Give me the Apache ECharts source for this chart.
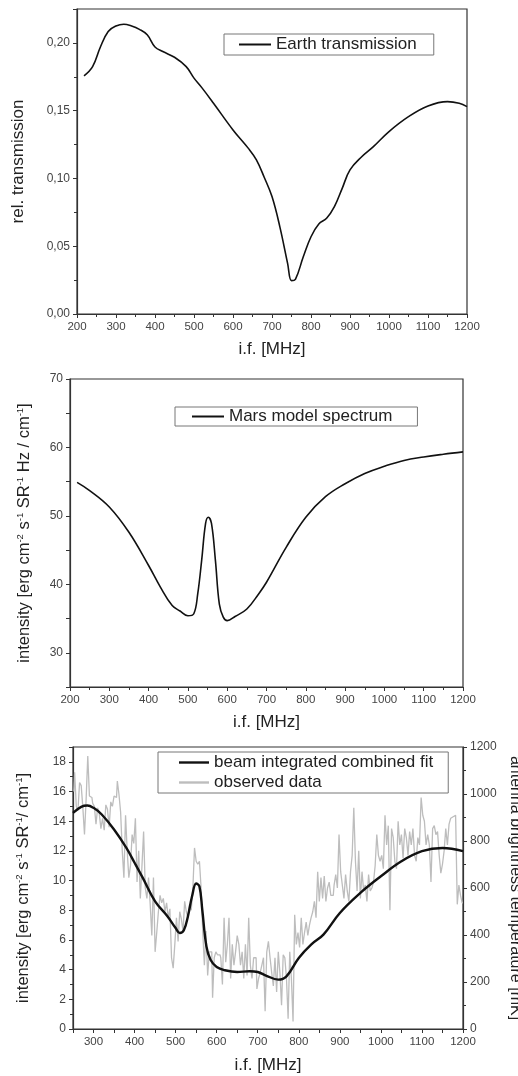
<!DOCTYPE html>
<html><head><meta charset="utf-8">
<script src="https://cdn.jsdelivr.net/npm/echarts@6/dist/echarts.min.js"></script>
<style>html,body{margin:0;padding:0;background:#fff}#c{width:518px;height:1076px}</style>
</head><body><div id="c"></div>
<script>
// ---- Panel 1: Earth transmission ----
const earthFreq = [218,240,260,280,300,320,340,360,380,400,420,450,480,500,520,550,600,640,660,680,700,720,740,750,760,780,800,820,840,860,880,900,930,960,1000,1050,1100,1150,1180,1200];
const earthVal = [0.1757,0.1825,0.197,0.2084,0.2125,0.2138,0.2125,0.210,0.206,0.197,0.1936,0.1894,0.1825,0.174,0.167,0.1555,0.1358,0.122,0.1137,0.1009,0.0866,0.0645,0.0374,0.0246,0.0256,0.042,0.057,0.0664,0.0706,0.0792,0.0927,0.1063,0.116,0.1235,0.1346,0.1456,0.1535,0.1567,0.1555,0.153];

// ---- Panel 2: Mars model spectrum ----
const marsFreq = [218,250,300,350,400,430,460,480,500,515,525,535,545,552,560,570,580,590,600,620,650,680,700,750,800,850,900,950,1000,1050,1100,1150,1200];
const marsVal = [54.9,53.7,51.3,47.6,42.75,39.6,36.9,36.1,35.4,35.7,38.6,43.5,48.9,49.8,48.9,43.5,37.1,35.2,34.7,35.3,36.4,38.6,40.3,45.4,49.8,52.8,54.7,56.2,57.25,58.1,58.6,59.0,59.35];

// ---- Panel 3: fit and observed data ----
const fitFreq = [250,270,285,300,320,350,380,400,420,450,480,500,510,520,530,540,550,558,565,575,585,600,620,650,680,700,720,750,770,800,830,860,900,950,1000,1050,1100,1150,1200];
const fitVal = [14.56,14.97,15.06,14.9,14.45,13.44,12.2,11.2,10.18,8.6,7.6,6.8,6.47,6.65,7.6,8.94,9.8,9.6,8.0,5.57,4.67,4.18,3.96,3.84,3.89,3.84,3.6,3.33,3.55,4.79,5.69,6.36,7.82,9.17,10.29,11.3,11.98,12.2,11.98];
const observed = [
[252,16.0],[256,17.3],[260,15.0],[264,14.7],[268,16.6],[272,16.4],[276,14.9],[280,13.1],[284,15.5],[288,18.4],
[292,15.7],[296,15.6],[300,15.2],[304,15.0],[308,13.8],[312,14.9],[316,14.5],[320,13.5],[324,14.2],[328,13.4],
[332,15.1],[336,14.8],[340,13.6],[344,15.3],[348,15.0],[352,15.7],[356,15.6],[360,16.7],[364,15.8],[368,14.6],
[372,12.0],[376,10.2],[380,14.4],[384,12.0],[388,10.2],[392,11.0],[396,13.1],[400,12.5],[404,14.2],[408,9.9],
[412,12.0],[416,8.8],[420,11.0],[424,13.3],[428,9.5],[432,8.8],[436,10.2],[440,8.4],[444,6.3],[448,10.2],
[452,5.2],[456,6.5],[460,7.9],[464,9.0],[468,8.5],[472,8.8],[476,7.9],[480,8.5],[484,7.5],[488,8.1],
[492,4.8],[496,4.1],[500,5.7],[504,7.5],[508,5.9],[512,7.9],[516,7.4],[520,6.6],[524,8.6],[528,7.9],
[532,7.5],[536,8.4],[540,8.0],[544,9.5],[548,12.2],[552,11.3],[556,11.1],[560,11.3],[564,9.5],[568,6.6],
[572,4.3],[576,6.6],[580,3.6],[584,5.2],[588,5.2],[592,2.1],[596,4.8],[600,5.2],[604,5.0],[608,5.0],
[612,4.8],[616,3.0],[620,7.5],[624,4.5],[628,5.7],[632,7.5],[636,3.4],[640,5.7],[644,4.3],[648,5.2],
[652,6.3],[656,5.7],[660,4.3],[664,5.2],[668,3.4],[672,5.7],[676,3.6],[680,7.5],[684,4.3],[688,3.4],
[692,4.8],[696,4.8],[700,2.7],[704,3.4],[708,3.8],[712,4.3],[716,4.8],[720,1.2],[724,5.2],[728,5.9],
[732,4.8],[736,3.8],[740,2.9],[744,4.8],[748,2.5],[752,5.2],[756,3.8],[760,1.6],[764,5.0],[768,4.8],
[772,3.4],[776,0.7],[780,5.2],[784,3.4],[788,0.5],[792,7.7],[796,5.7],[800,6.5],[804,5.5],[808,7.5],
[812,5.7],[816,6.5],[820,7.2],[824,6.3],[828,7.0],[832,7.5],[836,7.9],[840,8.6],[844,7.5],[848,10.6],
[852,8.6],[856,10.2],[860,8.8],[864,10.3],[868,8.6],[872,9.5],[876,9.9],[880,9.0],[884,9.0],[888,9.7],
[892,10.4],[896,9.5],[900,13.1],[904,10.6],[908,9.7],[912,8.8],[916,10.4],[920,9.3],[924,8.6],[928,10.6],
[932,11.7],[936,14.9],[940,11.3],[944,9.3],[948,12.0],[952,8.8],[956,10.6],[960,9.3],[964,9.7],[968,8.6],
[972,10.4],[976,9.3],[980,9.5],[984,9.9],[988,11.0],[992,13.1],[996,11.7],[1000,11.3],[1004,11.7],[1008,10.8],
[1012,14.4],[1016,12.4],[1020,13.7],[1024,8.0],[1028,13.5],[1032,12.9],[1036,11.3],[1040,10.8],[1044,14.0],[1048,12.4],
[1052,13.1],[1056,11.5],[1060,13.5],[1064,12.9],[1068,11.7],[1072,13.3],[1076,12.4],[1080,13.5],[1084,11.7],[1088,11.3],
[1092,12.9],[1096,12.4],[1100,15.6],[1104,14.4],[1108,14.0],[1112,12.4],[1116,13.1],[1120,12.4],[1124,9.9],[1128,13.5],
[1132,13.7],[1136,13.1],[1140,13.3],[1144,11.7],[1148,10.5],[1152,11.1],[1156,12.0],[1160,13.5],[1164,12.4],[1168,13.8],
[1172,14.2],[1176,14.3],[1180,14.4],[1184,14.3],[1188,8.4],[1192,9.7],[1196,9.0],[1200,8.5]
];

const FONT = 'Liberation Sans, Arial, sans-serif';
const axisLineStyle = {show:true, lineStyle:{color:'#333', width:1.2}};
const tickStyle = {show:true, inside:false, length:4, lineStyle:{color:'#333', width:1}};
const minorStyle = {show:true, splitNumber:2, length:3, lineStyle:{color:'#333', width:1}};
const xLabel = {color:'#444', fontSize:11.5, fontFamily:FONT, margin:7};
const yLabel = {color:'#444', fontSize:12, fontFamily:FONT, margin:7};
const nameStyle = {color:'#222', fontSize:17, fontFamily:FONT};
const supRich = {
  n:{fontSize:16.5, fontFamily:FONT, color:'#222', lineHeight:18},
  s:{fontSize:9.5, fontFamily:FONT, color:'#222', verticalAlign:'top', lineHeight:18, padding:[0,0,6,0]}
};
const legendText = {color:'#222', fontSize:17, fontFamily:FONT};

function xAxisDef(gi, min, max, interval, nameGap, hideOdd) {
  return {
    type:'value', gridIndex:gi, min:min, max:max, interval:interval,
    name:'i.f. [MHz]', nameLocation:'middle', nameGap:nameGap, nameTextStyle:nameStyle,
    axisLine:axisLineStyle, axisTick:tickStyle,
    minorTick: hideOdd ? {show:false} : minorStyle,
    splitLine:{show:false},
    axisLabel:Object.assign({}, xLabel, {formatter: v => (v % 100 === 0 ? String(v) : '')})
  };
}

const grids = [
  {left:77, right:51, top:9, height:305, show:true, borderColor:'#333', borderWidth:1.2, outerBoundsMode:'none'},
  {left:70, right:55, top:379, height:308, show:true, borderColor:'#333', borderWidth:1.2, outerBoundsMode:'none'},
  {left:73, right:55, top:747, height:282, show:true, borderColor:'#333', borderWidth:1.2, outerBoundsMode:'none'}
];

const option = {
  animation:false,
  backgroundColor:'#fff',
  grid: grids,
  legend: [
    {data:['Earth transmission'], left:224, top:34, orient:'horizontal', icon:'rect',
     backgroundColor:'#fff', borderColor:'#777', borderWidth:1, padding:[2,17,2,15],
     itemWidth:32, itemHeight:2, itemGap:5, textStyle:legendText},
    {data:['Mars model spectrum'], left:175, top:407, orient:'horizontal', icon:'rect',
     backgroundColor:'#fff', borderColor:'#777', borderWidth:1, padding:[1,25,1,17],
     itemWidth:32, itemHeight:2, textStyle:legendText},
    {data:[{name:'beam integrated combined fit', itemStyle:{color:'#111'}}, {name:'observed data'}],
     left:158, top:752, orient:'vertical', itemGap:3, icon:'rect',
     backgroundColor:'#fff', borderColor:'#777', borderWidth:1, padding:[2,15,2,21],
     itemWidth:30, itemHeight:2.4, textStyle:legendText}
  ],
  xAxis: [
    xAxisDef(0, 200, 1200, 100, 27, false),
    xAxisDef(1, 200, 1200, 100, 27, false),
    xAxisDef(2, 250, 1200, 50, 28, true)
  ],
  yAxis: [
    {type:'value', gridIndex:0, min:0, max:0.225, interval:0.05,
     name:'rel. transmission', nameLocation:'middle', nameGap:50, nameTextStyle:nameStyle,
     axisLine:axisLineStyle, axisTick:tickStyle, minorTick:minorStyle, splitLine:{show:false},
     axisLabel:Object.assign({}, yLabel, {formatter: v => (v <= 0.2001 ? v.toFixed(2).replace('.', ',') : '')})},
    {type:'value', gridIndex:1, min:25, max:70, interval:5,
     name:'{n|intensity [erg cm}{s|-2}{n| s}{s|-1}{n| SR}{s|-1}{n| Hz / cm}{s|-1}{n|]}',
     nameLocation:'middle', nameGap:37, nameTextStyle:Object.assign({}, nameStyle, {rich:supRich}),
     axisLine:axisLineStyle, axisTick:tickStyle, minorTick:{show:false}, splitLine:{show:false},
     axisLabel:Object.assign({}, yLabel, {formatter: v => (v % 10 === 0 ? String(v) : '')})},
    {type:'value', gridIndex:2, min:0, max:19, interval:2,
     name:'{n|intensity [erg cm}{s|-2}{n| s}{s|-1}{n| SR}{s|-1}{n|/ cm}{s|-1}{n|]}',
     nameLocation:'middle', nameGap:41, nameTextStyle:Object.assign({}, nameStyle, {rich:supRich}),
     axisLine:axisLineStyle, axisTick:tickStyle, minorTick:minorStyle, splitLine:{show:false},
     axisLabel:Object.assign({}, yLabel, {formatter: v => (v % 2 === 0 && v <= 18 ? String(v) : '')})},
    {type:'value', gridIndex:2, position:'right', min:0, max:1200, interval:200,
     name:'antenna brightness temperature [mK]', nameLocation:'middle', nameGap:38, nameRotate:-90,
     nameTextStyle:Object.assign({}, nameStyle, {fontSize:16}),
     axisLine:axisLineStyle, axisTick:tickStyle, minorTick:minorStyle, splitLine:{show:false},
     axisLabel:Object.assign({}, yLabel, {formatter: v => String(v)})}
  ],
  series: [
    {name:'Earth transmission', type:'line', xAxisIndex:0, yAxisIndex:0, symbol:'none',
     smooth:0.4, lineStyle:{color:'#111', width:1.6}, itemStyle:{color:'#111'},
     data: earthFreq.map((f,i)=>[f, earthVal[i]])},
    {name:'Mars model spectrum', type:'line', xAxisIndex:1, yAxisIndex:1, symbol:'none',
     smooth:0.4, lineStyle:{color:'#111', width:1.6}, itemStyle:{color:'#111'},
     data: marsFreq.map((f,i)=>[f, marsVal[i]])},
    {name:'observed data', type:'line', xAxisIndex:2, yAxisIndex:2, symbol:'none', step:'middle', z:2,
     lineStyle:{color:'#bdbdbd', width:1.3}, itemStyle:{color:'#bdbdbd'},
     data: observed},
    {name:'beam integrated combined fit', type:'line', xAxisIndex:2, yAxisIndex:2, symbol:'none', z:3,
     smooth:0.4, lineStyle:{color:'#111', width:2.4}, itemStyle:{color:'#111'},
     data: fitFreq.map((f,i)=>[f, fitVal[i]])}
  ]
};
const chart = echarts.init(document.getElementById('c'), null, {renderer:'canvas'});
chart.setOption(option);
</script>
</body></html>
